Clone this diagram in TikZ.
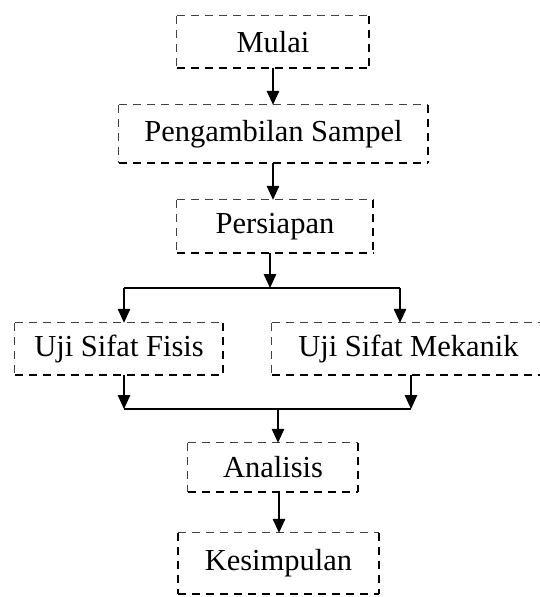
\documentclass[tikz,border=0pt]{standalone}
\usepackage{fontspec}
\setmainfont{Liberation Serif}
\usetikzlibrary{arrows.meta}
\tikzset{
  box/.style={draw=none, inner sep=0pt, font=\fontsize{30.5}{36}\selectfont, text=black},
  thinedge/.style={draw=black!75, line width=1pt, dash pattern=on 8.5pt off 5.5pt},
  thickedge/.style={draw=black, line width=2.5pt, dash pattern=on 8.5pt off 5.5pt},
  conn/.style={draw=black, line width=1.3pt},
  arr/.style={conn, -{Triangle[width=12.5pt,length=14pt]}}
}
\newcommand{\boxedges}[1]{%
  \path[thinedge] (#1.north west) -- (#1.north east);
  \path[thinedge] (#1.north west) -- (#1.south west);
  \path[thickedge] (#1.south west) -- (#1.south east);
  \path[thickedge] (#1.north east) -- (#1.south east);
}
\begin{document}
\begin{tikzpicture}[x=1pt,y=-1pt]
\useasboundingbox (0,0) rectangle (540,597);
\node[box, minimum width=192pt, minimum height=52pt] (mulai) at (273,42) {Mulai};
\node[box, minimum width=309pt, minimum height=58pt] (peng) at (273.5,134) {Pengambilan Sampel};
\node[box, minimum width=196pt, minimum height=53pt] (pers) at (275,226.5) {Persiapan};
\node[box, minimum width=208pt, minimum height=52pt] (fisis) at (119,349) {Uji Sifat Fisis};
\node[box, minimum width=273pt, minimum height=52pt] (mek) at (408.5,349) {Uji Sifat Mekanik};
\node[box, minimum width=170pt, minimum height=49pt] (anal) at (273,467.5) {Analisis};
\node[box, minimum width=201pt, minimum height=61pt] (kes) at (278.5,563.5) {Kesimpulan};
\boxedges{mulai}
\boxedges{peng}
\boxedges{pers}
\boxedges{fisis}
\boxedges{mek}
\boxedges{anal}
\boxedges{kes}
\path[thickedge] (kes.north west) -- (kes.south west);
% coordinates for connector columns
\coordinate (c1) at (273,0);
\coordinate (c2) at (270,0);
\coordinate (split) at (270,288);
\coordinate (sl) at (124,288);
\coordinate (sr) at (400,288);
\coordinate (ml) at (124,409);
\coordinate (mr) at (411,409);
\coordinate (mc) at (278,409);
\coordinate (c3) at (279,0);
% connectors
\draw[arr] (mulai.south -| c1) -- (peng.north -| c1);
\draw[arr] (peng.south -| c1) -- (pers.north -| c1);
\draw[arr] (pers.south -| c2) -- (split);
\draw[conn] (sl) -- (sr);
\draw[arr] (sl) -- (fisis.north -| sl);
\draw[arr] (sr) -- (mek.north -| sr);
\draw[arr] (fisis.south -| ml) -- (ml);
\draw[arr] (mek.south -| mr) -- (mr);
\draw[conn] (ml) -- (mr);
\draw[arr] (mc) -- (anal.north -| mc);
\draw[arr] (anal.south -| c3) -- (kes.north -| c3);
\end{tikzpicture}
\end{document}
